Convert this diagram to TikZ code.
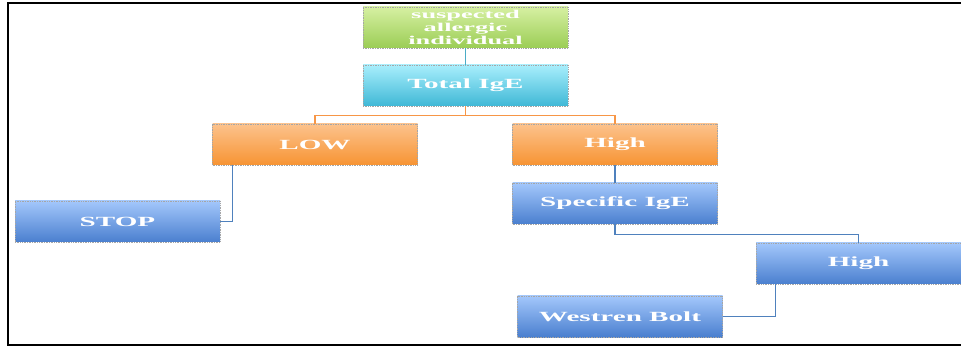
\documentclass[tikz,border=0pt]{standalone}
\usepackage{fontspec}
\setmainfont{Liberation Serif}
\usepackage{graphicx}
\usetikzlibrary{calc}
\definecolor{gtop}{HTML}{D6F0A2}
\definecolor{gbot}{HTML}{9BCD55}
\definecolor{ctop}{HTML}{A8EEFC}
\definecolor{cbot}{HTML}{3FB8D6}
\definecolor{otop}{HTML}{FCC28C}
\definecolor{obot}{HTML}{F79433}
\definecolor{btop}{HTML}{A3C7FB}
\definecolor{bbot}{HTML}{4A7FCF}
\definecolor{lteal}{HTML}{4BACC6}
\definecolor{lorange}{HTML}{F79646}
\definecolor{lblue}{HTML}{4F81BD}
\newcommand{\wideTxt}[1]{\scalebox{2.08}[1]{#1}}
\newcommand{\wideTxtS}[1]{\scalebox{2.2}[1]{#1}}
\tikzset{
  x=1pt, y=-1pt,
  boxbase/.style={rectangle, minimum width=205pt, minimum height=41pt, inner sep=0pt,
    draw=black!35, densely dotted, line width=0.7pt, text=white, align=center,
    font=\fontsize{14}{13.5}\selectfont\bfseries},
  greenbox/.style={boxbase, top color=gtop, bottom color=gbot},
  cyanbox/.style={boxbase, top color=ctop, bottom color=cbot},
  orangebox/.style={boxbase, top color=otop, bottom color=obot},
  bluebox/.style={boxbase, top color=btop, bottom color=bbot},
  conn/.style={line width=1.2pt},
  frame/.style={line width=2pt, black}
}
\begin{document}
\begin{tikzpicture}
\useasboundingbox (0,0) rectangle (961,347);
\draw[frame] (961,3) -- (7.5,3) -- (7.5,344.5) -- (961,344.5);

\node[greenbox, font=\fontsize{12}{12.6}\selectfont\bfseries] (sus) at (465.5,27.5) {\wideTxtS{suspected}\\\wideTxtS{allergic}\\\wideTxtS{individual}};
\node[cyanbox] (tot) at (465.5,85.5) {\wideTxt{Total IgE}};
\node[orangebox] (low) at (315,144.5) {\wideTxt{LOW}};
\node[orangebox] (high) at (615,144.5) {\wideTxt{High}};
\node[bluebox] (stop) at (117.5,221.5) {\wideTxt{STOP}};
\node[bluebox] (spec) at (615,203.5) {\wideTxt{Specific IgE}};
\node[bluebox] (high2) at (858.5,263.5) {\wideTxt{High}};
\node[bluebox] (wb) at (620,316.5) {\wideTxt{Westren Bolt}};

\draw[conn, lteal] (sus.south) -- (tot.north);
\draw[conn, lorange] (tot.south) -- ++(0,9) -| (low.north);
\draw[conn, lorange] (tot.south) -- ++(0,9) -| (high.north);
\draw[conn, lblue] ([xshift=20pt]low.south west) |- (stop.east);
\draw[conn, lblue] (high.south) -- (spec.north);
\draw[conn, lblue] (spec.south) -- ++(0,10) -| (high2.north);
\draw[conn, lblue] ([xshift=20pt]high2.south west) |- (wb.east);
\end{tikzpicture}
\end{document}
